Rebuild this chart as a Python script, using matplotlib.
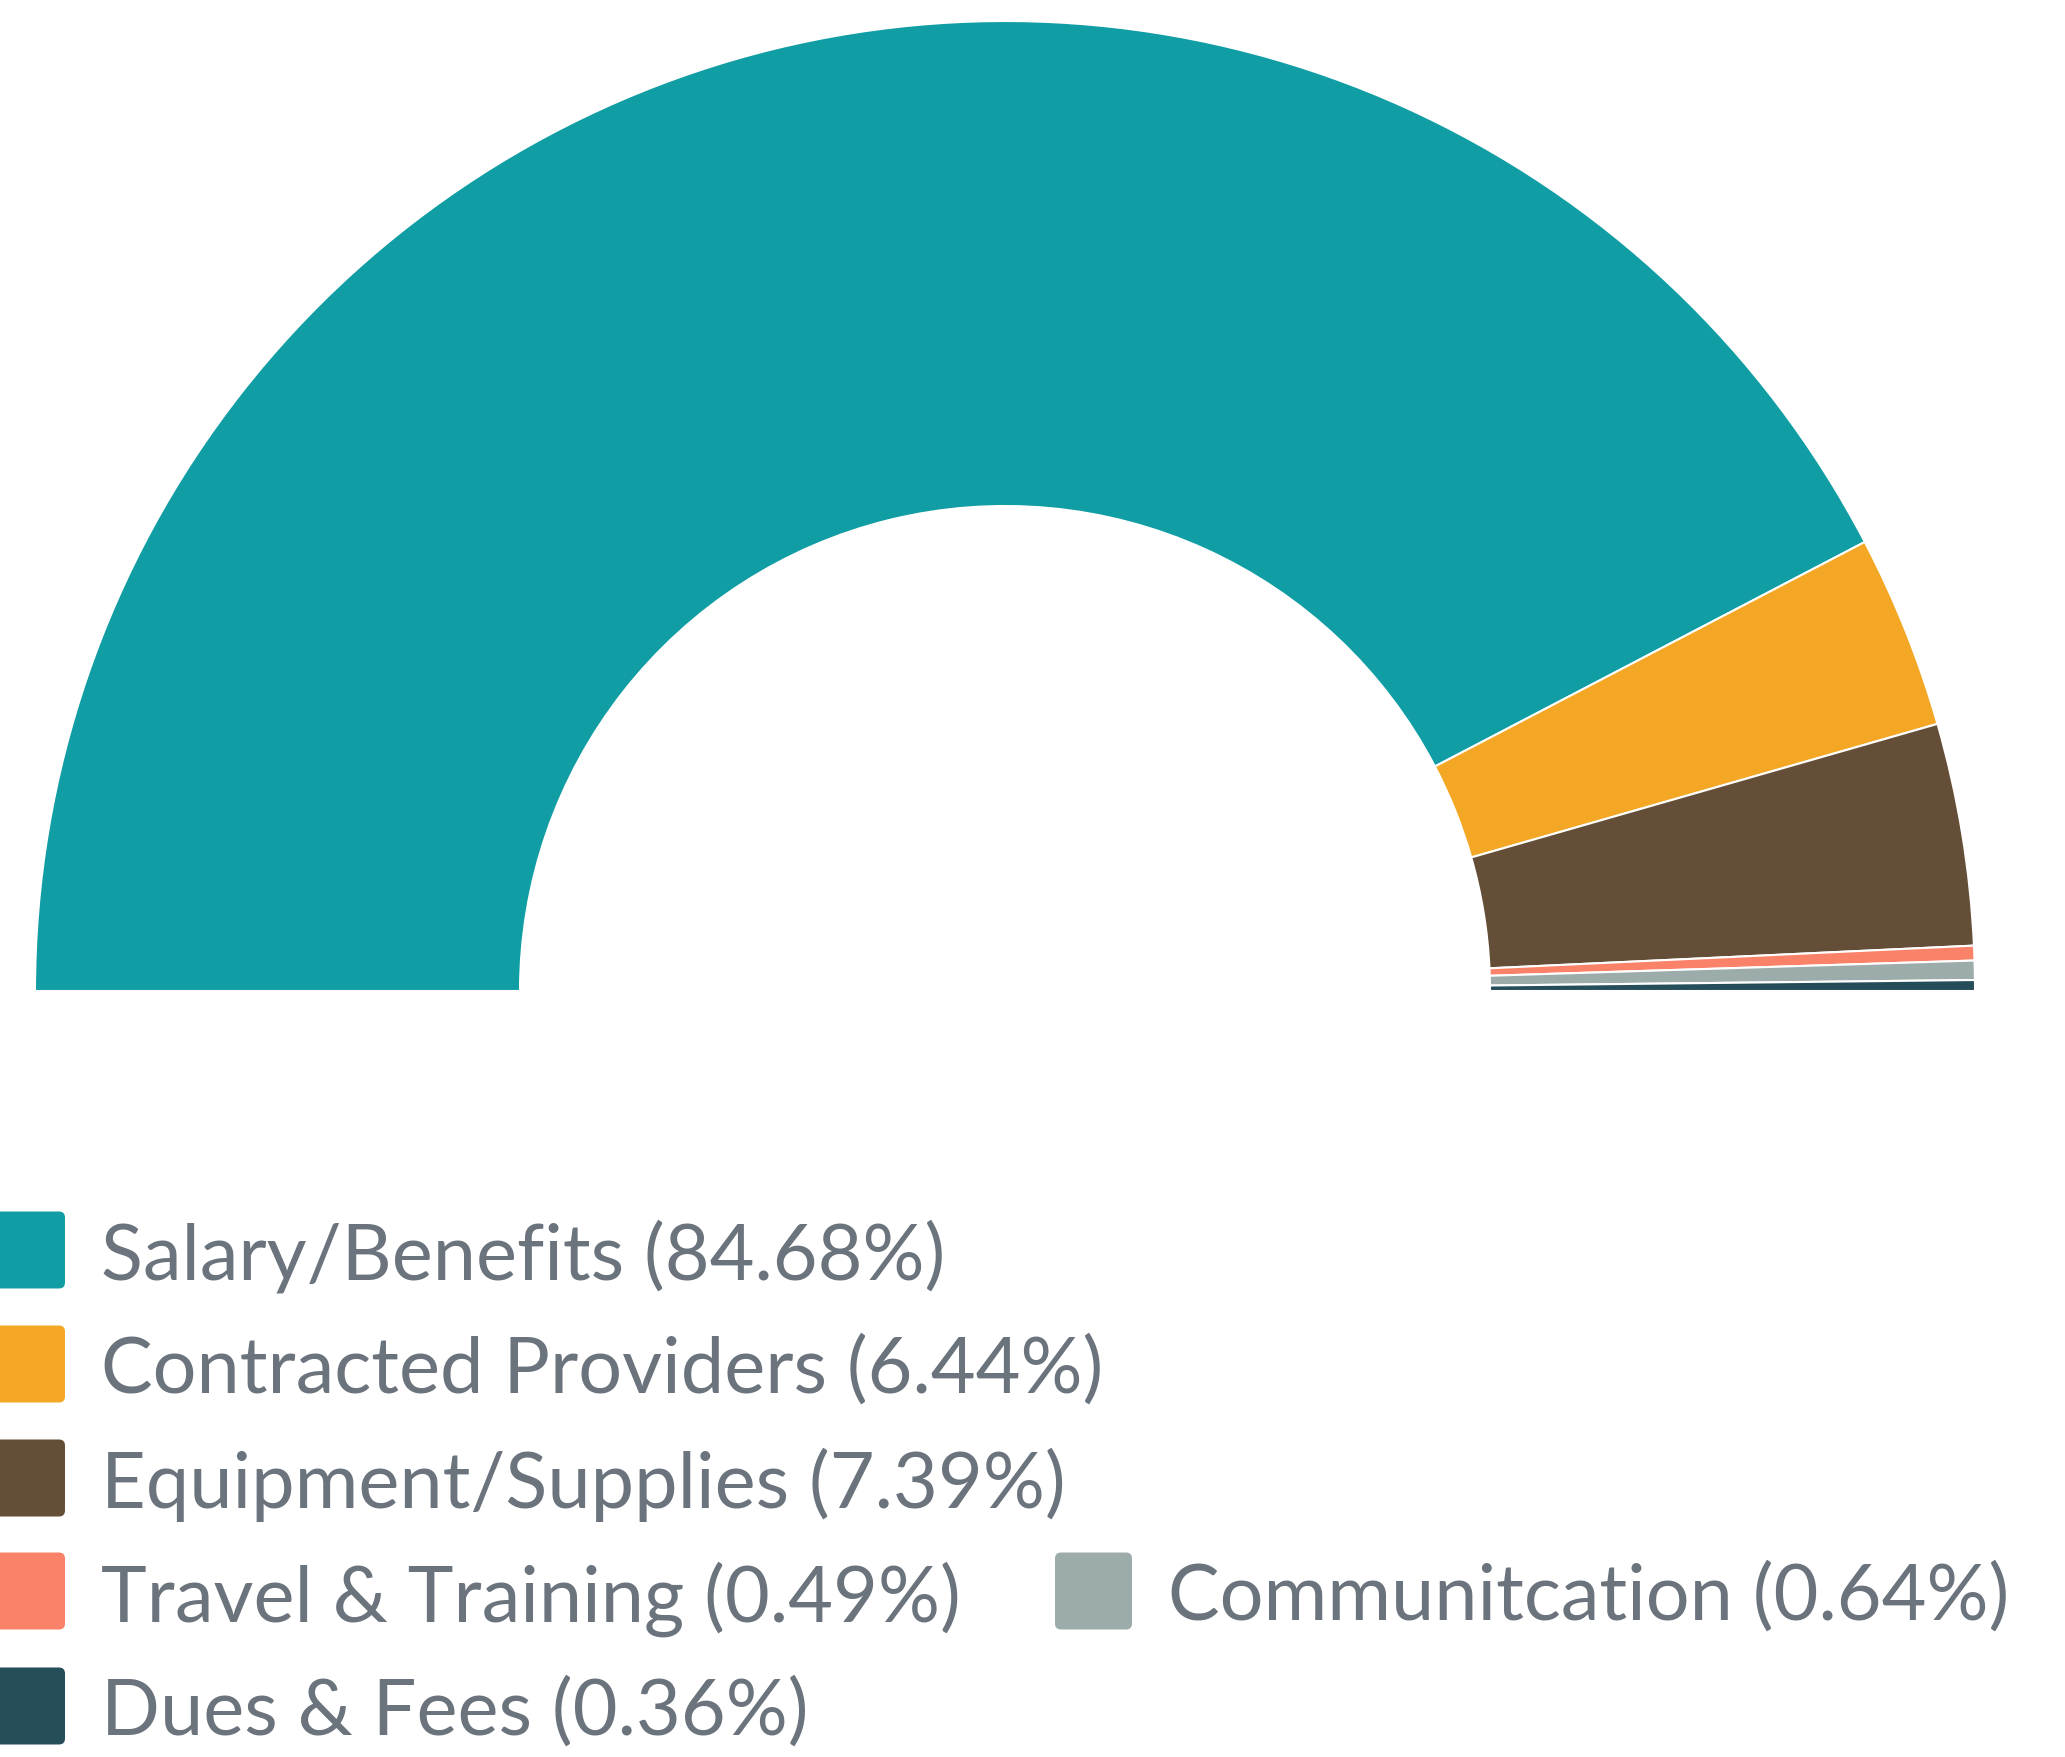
import matplotlib.pyplot as plt
from matplotlib.patches import FancyBboxPatch

# data
categories = ["Salary/Benefits", "Contracted Providers", "Equipment/Supplies",
              "Travel & Training", "Communitcation", "Dues & Fees"]
shares = [84.68, 6.44, 7.39, 0.49, 0.64, 0.36]
colors = ["#109DA4", "#F4A724", "#654E37", "#FA8268", "#9CACAB", "#254D5A"]

# legend layout: (row, column) for each entry
legend_slots = [(0, 0), (1, 0), (2, 0), (3, 0), (3, 1), (4, 0)]

W, H = 2065, 1757
fig = plt.figure(figsize=(W / 100, H / 100), dpi=100, facecolor="white")
ax = fig.add_axes([0, 0, 1, 1])
ax.set_aspect("equal")

# half donut: the hidden second half fills the bottom
vals = shares + [sum(shares)]
cols = colors + ["none"]
wedges, _ = ax.pie(vals, colors=cols, startangle=180, counterclock=False,
                   radius=970, center=(1005, H - 991), frame=True,
                   wedgeprops=dict(width=485, edgecolor="white", linewidth=1.5))
wedges[-1].set_edgecolor("none")
ax.set_xlim(0, W)
ax.set_ylim(0, H)
ax.axis("off")

# legend
row_y = [1250, 1364, 1478, 1591, 1706]
col_x = [-12, 1055]
box = 77
for name, val, c, (r, k) in zip(categories, shares, colors, legend_slots):
    x0 = col_x[k]
    yc = H - row_y[r]
    ax.add_patch(FancyBboxPatch((x0, yc - box / 2), box, box,
                                boxstyle="round,pad=0,rounding_size=6",
                                facecolor=c, edgecolor="none"))
    ax.text(x0 + box + 36, yc, f"{name} ({val:.2f}%)", fontsize=55.8,
            family=["Lato", "DejaVu Sans"], color="#6B737D",
            va="center_baseline", ha="left")

fig.savefig("out.png", dpi=100, facecolor="white")
